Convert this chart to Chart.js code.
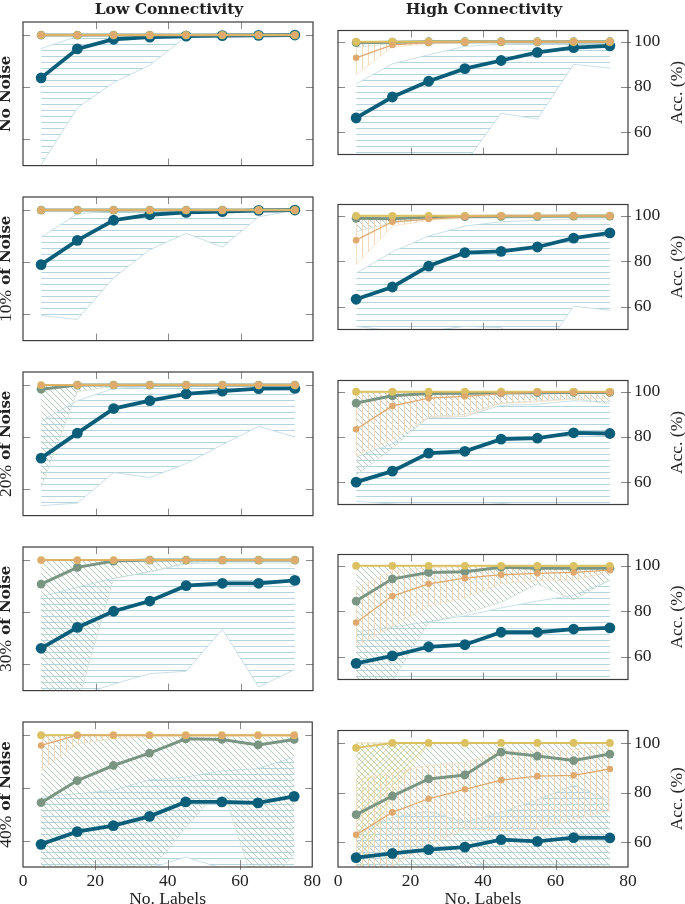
<!DOCTYPE html>
<html>
<head>
<meta charset="utf-8">
<script src="https://cdn.jsdelivr.net/npm/chart.js@4.4.1/dist/chart.umd.min.js"></script>
<style>
  body { margin: 0; background: #fff; width: 685px; height: 904px; position: relative; overflow: hidden;
         font-family: "Liberation Serif", "DejaVu Serif", serif; color: #222; }
  canvas { position: absolute; }
  .col-title { position: absolute; top: -1px; font-family: "DejaVu Serif", serif; font-weight: bold; font-size: 15.5px;
               transform: translateX(-50%); white-space: nowrap; }
</style>
</head>
<body>
<script>
// x positions of the runs and axis ticks
const labelCounts = [5, 15, 25, 35, 45, 55, 65, 75];
const xTicks = [0, 20, 40, 60, 80];
const yTicks = [60, 80, 100];
const noiseLevels = ['', '10%', '20%', '30%', '40%'];
const colTitles = ['Low Connectivity', 'High Connectivity'];

// one entry per panel: row by row, low connectivity then high connectivity
const full = [100, 100, 100, 100, 100, 100, 100, 100];

const blueMean = [
  [83.6, 94.7, 98.4, 99.2, 99.6, 99.8, 99.9, 100],
  [66.2, 75.5, 82.5, 88.1, 91.7, 95.3, 97.4, 98.2],
  [79.1, 88.4, 96.1, 98.2, 99.1, 99.4, 99.9, 100],
  [63.3, 68.7, 77.9, 83.8, 84.4, 86.3, 90.2, 92.5],
  [72.0, 81.6, 91.0, 94.0, 96.6, 97.7, 98.6, 98.7],
  [59.9, 64.8, 72.8, 73.6, 79.0, 79.4, 81.8, 81.5],
  [66.2, 74.2, 80.4, 84.3, 90.2, 91.1, 91.1, 92.2],
  [57.1, 60.4, 64.4, 65.3, 70.8, 70.8, 72.2, 72.7],
  [58.6, 63.4, 65.7, 69.2, 74.7, 74.7, 74.3, 76.8],
  [53.8, 55.5, 57.0, 58.0, 61.0, 60.3, 61.8, 61.7]
];
const blueHi = [
  [94.8, 99.5, 100, 100, 100, 100, 100, 100],
  [81.3, 90.2, 94.2, 98.0, 98.9, 99.1, 99.2, 99.3],
  [89.6, 98.6, 99.6, 100, 100, 100, 100, 100],
  [74.7, 84.2, 91.1, 95.5, 97.4, 98.0, 98.6, 98.6],
  [86.1, 94.0, 98.7, 99.4, 99.5, 99.5, 99.5, 98.7],
  [71.0, 77.0, 88.5, 89.0, 94.0, 94.5, 96.0, 95.5],
  [86.0, 89.6, 93.0, 95.5, 98.6, 98.9, 98.9, 98.9],
  [71.0, 73.0, 75.5, 78.0, 81.5, 84.5, 87.0, 93.5],
  [76.5, 77.8, 79.1, 83.1, 84.1, 86.4, 87.3, 91.7],
  [64.0, 70.0, 72.5, 68.0, 72.0, 77.0, 83.0, 76.5]
];
const blueLo = [
  [50.3, 72.1, 81.8, 88.5, 99.4, 99.6, 99.8, 99.9],
  [40.0, 42.0, 44.0, 46.0, 68.3, 65.7, 90.0, 88.3],
  [59.6, 58.1, 74.1, 84.8, 91.1, 85.8, 97.4, 99.9],
  [51.4, 49.4, 49.2, 51.4, 50.8, 37.0, 60.3, 58.4],
  [53.8, 54.8, 66.5, 64.6, 69.9, 77.2, 84.2, 80.1],
  [51.5, 50.2, 49.0, 49.0, 50.5, 49.0, 48.0, 48.0],
  [45.0, 48.0, 52.5, 56.5, 57.4, 73.5, 51.4, 58.1],
  [49.0, 49.0, 49.0, 49.0, 49.0, 49.0, 49.0, 49.0],
  [49.0, 49.0, 49.0, 49.5, 53.8, 49.5, 48.0, 48.0],
  [48.0, 48.0, 48.0, 52.0, 49.0, 49.0, 48.0, 48.0]
];

const greenMean = [
  full,
  [99.6, 99.8, 100, 100, 100, 100, 100, 100],
  full,
  [98.9, 98.7, 99.5, 99.7, 99.8, 99.8, 99.9, 99.9],
  [98.4, 100, 100, 100, 100, 100, 100, 100],
  [95.0, 98.2, 99.2, 99.4, 99.5, 99.6, 99.7, 99.7],
  [90.8, 97.2, 99.6, 100, 100, 100, 100, 100],
  [84.5, 94.3, 97.1, 97.4, 99.4, 99.0, 99.0, 99.0],
  [74.4, 82.8, 88.5, 93.2, 98.6, 98.4, 96.3, 98.4],
  [71.1, 78.6, 85.5, 87.1, 96.3, 94.7, 92.9, 95.5]
];
const greenHi = [full, full, full, full, full, full, full, full, full, full];
const greenLo = [
  full,
  [97.5, 99.3, 99.7, 100, 100, 100, 100, 100],
  full,
  [93.0, 97.0, 98.5, 99.0, 99.0, 99.2, 99.3, 99.3],
  [61.0, 97.5, 99.5, 100, 100, 100, 100, 100],
  [63.0, 75.0, 89.0, 90.0, 95.0, 96.0, 97.0, 94.5],
  [40.0, 45.0, 93.0, 95.5, 99.0, 99.5, 99.5, 99.5],
  [50.0, 49.5, 75.0, 79.0, 84.0, 92.0, 85.0, 94.0],
  [45.0, 45.0, 45.0, 48.0, 65.0, 80.5, 38.7, 55.0],
  [45.0, 45.0, 45.0, 45.0, 45.0, 45.0, 45.0, 45.0]
];

const orangeMean = [
  full,
  [92.9, 98.6, 99.6, 99.8, 99.9, 100, 100, 100],
  full,
  [89.3, 97.4, 98.6, 99.6, 100, 100, 100, 100],
  full,
  [83.4, 93.7, 97.2, 98.0, 99.2, 99.7, 99.7, 99.7],
  full,
  [75.1, 86.7, 92.1, 94.6, 96.1, 96.7, 97.1, 98.1],
  [96.1, 100, 100, 100, 100, 100, 100, 100],
  [63.0, 72.0, 77.5, 81.3, 85.0, 86.6, 86.9, 89.5]
];
const orangeHi = [
  full, full, full, full, full, full, full,
  [90.0, 98.0, 99.0, 100, 100, 100, 100, 100],
  full,
  [85.0, 88.0, 91.0, 92.0, 96.7, 96.7, 97.3, 99.2]
];
const orangeLo = [
  full,
  [85.4, 97.8, 99.0, 99.5, 99.7, 99.8, 99.9, 100],
  full,
  [78.5, 95.5, 98.0, 99.0, 99.5, 99.5, 99.7, 99.7],
  full,
  [71.6, 79.1, 88.6, 89.2, 94.8, 95.5, 96.7, 97.0],
  full,
  [64.6, 73.5, 82.3, 86.0, 92.3, 93.6, 93.6, 97.4],
  [86.6, 96.7, 98.6, 99.5, 99.5, 99.5, 99.5, 99.5],
  [45.0, 50.6, 58.9, 65.2, 64.6, 65.2, 69.0, 72.8]
];

const yellowMean = [
  full, full, full, full, full, full, full, full, full,
  [98.0, 100, 100, 100, 100, 100, 100, 100]
];
const yellowHi = [full, full, full, full, full, full, full, full, full, full];
const yellowLo = [
  full, full, full, full, full, full, full, full, full,
  [45.0, 80.0, 100, 100, 100, 100, 100, 100]
];

// layout of the grid (px)
const ROW_TOP = [22, 197, 372, 547, 722];
const PLOT_H = 145;
const PLOT_W = 290;

const SERIF = '"Liberation Serif", "DejaVu Serif", serif';
const BOLD = 'bold 15px "DejaVu Serif", serif';
Chart.defaults.font.family = SERIF;
Chart.defaults.color = '#222';

function hatch(color, kind) {
  const s = 6;
  const c = document.createElement('canvas');
  c.width = s; c.height = s;
  const g = c.getContext('2d');
  g.strokeStyle = color;
  g.lineWidth = 1;
  g.beginPath();
  if (kind === 'h') {
    g.moveTo(0, 0.5); g.lineTo(s, 0.5);
  } else if (kind === 'v') {
    g.moveTo(0.5, 0); g.lineTo(0.5, s);
  } else if (kind === 'nw') {
    g.moveTo(-1, -1); g.lineTo(s + 1, s + 1);
    g.moveTo(-1, s - 1); g.lineTo(1, s + 1);
    g.moveTo(s - 1, -1); g.lineTo(s + 1, 1);
  } else {
    g.moveTo(-1, s + 1); g.lineTo(s + 1, -1);
    g.moveTo(-1, 1); g.lineTo(1, -1);
    g.moveTo(s - 1, s + 1); g.lineTo(s + 1, s - 1);
  }
  g.stroke();
  return g.createPattern(c, 'repeat');
}

const series = [
  { mean: blueMean, hi: blueHi, lo: blueLo, color: '#0b5e7a', edge: '#bcd9e2', fillCol: '#b4d4de', kind: 'h',
    width: 3.8, radius: 5.4, lineOrder: 4, bandOrder: 14 },
  { mean: greenMean, hi: greenHi, lo: greenLo, color: '#7a9582', edge: '#cfe0d4', fillCol: '#b3cfbc', kind: 'nw',
    width: 3, radius: 4.4, lineOrder: 3, bandOrder: 13 },
  { mean: orangeMean, hi: orangeHi, lo: orangeLo, color: '#e0a96e', edge: '#f6dfc7', fillCol: '#f4d9bc', kind: 'v',
    width: 1.3, radius: 3.3, lineOrder: 1, bandOrder: 12 },
  { mean: yellowMean, hi: yellowHi, lo: yellowLo, color: '#dbc161', edge: '#f0e4b4', fillCol: '#eadb9e', kind: 'ne',
    width: 2, radius: 3.9, lineOrder: 2, bandOrder: 11 }
];

const toPoints = (arr) => labelCounts.map((x, i) => ({ x, y: arr[i] }));

function buildDatasets(p) {
  const sets = [];
  series.forEach((s) => {
    sets.push({
      data: toPoints(s.hi[p]), borderColor: s.edge, borderWidth: 0.8,
      pointRadius: 0, fill: false, order: s.bandOrder
    });
    sets.push({
      data: toPoints(s.lo[p]), borderColor: s.edge, borderWidth: 0.8,
      pointRadius: 0, fill: '-1', backgroundColor: hatch(s.fillCol, s.kind), order: s.bandOrder
    });
  });
  series.forEach((s) => {
    sets.push({
      data: toPoints(s.mean[p]), borderColor: s.color, backgroundColor: s.color,
      borderWidth: s.width, pointRadius: s.radius, pointHoverRadius: s.radius,
      pointBorderWidth: 0, fill: false, order: s.lineOrder
    });
  });
  return sets;
}

// pgfplots-like box with inward ticks on every side
const framePlugin = {
  id: 'frame',
  afterDraw(chart, args, opts) {
    const { ctx, chartArea: a, scales: { x, y } } = chart;
    ctx.save();
    ctx.strokeStyle = '#8a8a8a';
    ctx.lineWidth = 1;
    ctx.beginPath();
    xTicks.slice(1, -1).forEach((v) => {
      const px = Math.round(x.getPixelForValue(v)) + 0.5;
      ctx.moveTo(px, a.top); ctx.lineTo(px, a.top + 7);
      ctx.moveTo(px, a.bottom + (opts.outX ? 3 : 0)); ctx.lineTo(px, a.bottom - 7);
    });
    yTicks.forEach((v) => {
      const py = Math.round(y.getPixelForValue(v)) + 0.5;
      ctx.moveTo(a.left, py); ctx.lineTo(a.left + 7, py);
      ctx.moveTo(a.right + (opts.outY ? 3 : 0), py); ctx.lineTo(a.right - 7, py);
    });
    ctx.stroke();
    ctx.strokeStyle = '#3c3c3c';
    ctx.lineWidth = 1.2;
    ctx.strokeRect(a.left, a.top, a.right - a.left, a.bottom - a.top);
    ctx.restore();
  }
};

// rotated side labels: row name on the left column, "Acc. (%)" on the right one
const sideTextPlugin = {
  id: 'sideText',
  afterDraw(chart, args, opts) {
    const { ctx, chartArea: a } = chart;
    const parts = opts.parts;
    ctx.save();
    ctx.fillStyle = '#222';
    ctx.textBaseline = 'middle';
    let total = 0;
    parts.forEach((pt) => { ctx.font = pt.font; pt.w = ctx.measureText(pt.text).width; total += pt.w; });
    ctx.translate(opts.x, (a.top + a.bottom) / 2);
    ctx.rotate(-Math.PI / 2);
    let pos = -total / 2;
    parts.forEach((pt) => { ctx.font = pt.font; ctx.fillText(pt.text, pos, 0); pos += pt.w; });
    ctx.restore();
  }
};

for (let p = 0; p < 10; p++) {
  const row = Math.floor(p / 2);
  const col = p % 2;
  const last = row === 4;
  // keep every canvas on an even page row so the hatch lines land alike
  const padT = ROW_TOP[row] % 2 === 0 ? 8 : 9;
  const xAxisH = last ? 37 : 4;
  const yAxisW = col ? 57 : 23;
  const canvas = document.createElement('canvas');
  const w = col ? 12 + PLOT_W + yAxisW : yAxisW + PLOT_W + 12;
  const h = padT + PLOT_H + xAxisH;
  canvas.width = w;
  canvas.height = h;
  canvas.style.left = (col ? 326 : 0) + 'px';
  canvas.style.top = (ROW_TOP[row] - padT) + 'px';
  document.body.appendChild(canvas);

  let side;
  if (col === 1) {
    side = { x: 351, parts: [{ text: 'Acc. (%)', font: '17.5px ' + SERIF }] };
  } else if (row === 0) {
    side = { x: 6, parts: [{ text: 'No Noise', font: BOLD }] };
  } else {
    side = { x: 6, parts: [{ text: noiseLevels[row], font: '17.5px ' + SERIF }, { text: ' of Noise', font: BOLD }] };
  }

  new Chart(canvas.getContext('2d'), {
    type: 'line',
    data: { datasets: buildDatasets(p) },
    options: {
      responsive: false,
      animation: false,
      events: [],
      layout: { padding: { top: padT, bottom: 0, left: col ? 12 : 0, right: col ? 0 : 12 } },
      plugins: {
        legend: { display: false },
        tooltip: { enabled: false },
        frame: { outX: last, outY: col === 1 },
        sideText: side
      },
      scales: {
        x: {
          type: 'linear', min: 0, max: 80, position: 'bottom',
          grid: { display: false, drawTicks: false },
          border: { display: false },
          afterBuildTicks: (s) => { s.ticks = xTicks.map((v) => ({ value: v })); },
          ticks: { display: last, padding: 4, font: { size: 17.5 }, autoSkip: false, maxRotation: 0 },
          title: { display: last, text: 'No. Labels', font: { size: 17.5, lineHeight: 1 }, padding: { top: 0, bottom: -4 } },
          afterFit: (s) => { s.height = xAxisH; }
        },
        y: {
          type: 'linear', min: 50, max: 105, position: col ? 'right' : 'left',
          grid: { display: false, drawTicks: false },
          border: { display: false },
          afterBuildTicks: (s) => { s.ticks = yTicks.map((v) => ({ value: v })); },
          ticks: { display: col === 1, padding: 6, font: { size: 17.5 } },
          afterFit: (s) => { s.width = yAxisW; }
        }
      }
    },
    plugins: [framePlugin, sideTextPlugin]
  });
}

colTitles.forEach((t, i) => {
  const d = document.createElement('div');
  d.className = 'col-title';
  d.textContent = t;
  d.style.left = (i ? 484 : 169) + 'px';
  document.body.appendChild(d);
});
</script>
</body>
</html>
